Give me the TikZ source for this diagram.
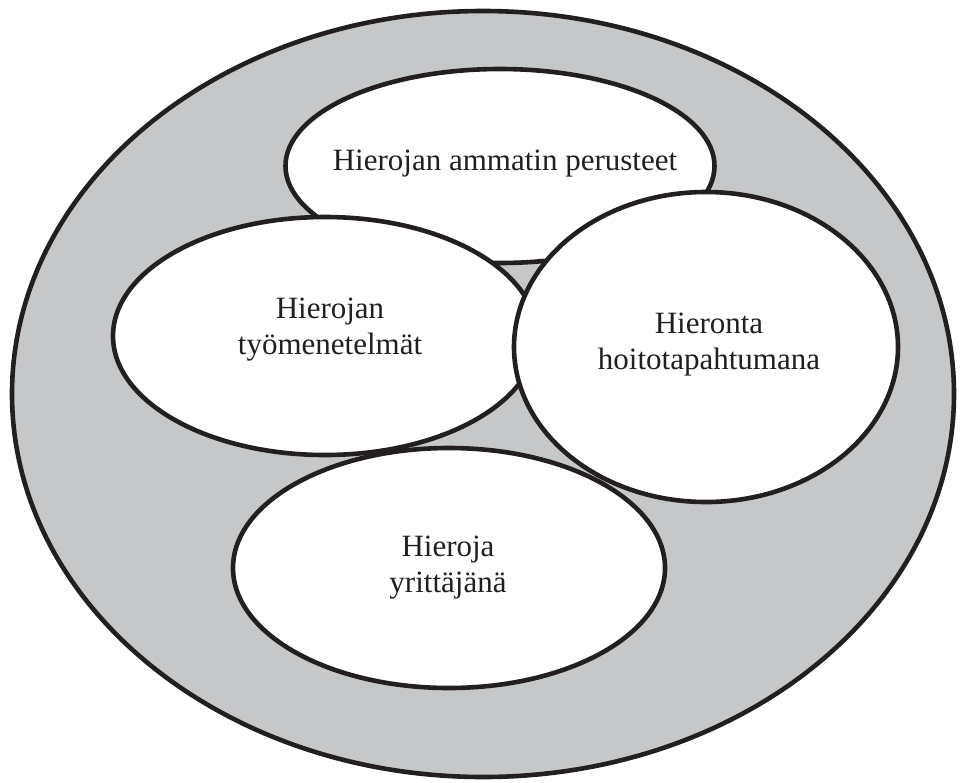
\documentclass[tikz,border=0pt]{standalone}
\usepackage{fontspec}
\setmainfont{Liberation Serif}
\usetikzlibrary{shapes.geometric}
\definecolor{ringgray}{HTML}{C6C7C9}
\definecolor{inkline}{HTML}{231F20}
\tikzset{
  bubble/.style={ellipse, draw=inkline, line width=4.6pt, fill=white, inner sep=0pt, outer sep=0pt},
  outerring/.style={ellipse, draw=inkline, line width=4.6pt, fill=ringgray, inner sep=0pt, outer sep=0pt},
  label/.style={text=inkline, align=center, inner sep=0pt, font=\fontsize{31}{36}\selectfont}
}
\begin{document}
\begin{tikzpicture}[x=1pt,y=-1pt]
\useasboundingbox (0,0) rectangle (961,782);
\node[outerring, minimum width=942pt, minimum height=766pt] (outer) at (483,394) {};
\node[bubble, minimum width=429pt, minimum height=194pt] (e1) at (500,166) {};
\node[bubble, minimum width=424pt, minimum height=238pt] (e2) at (325,336) {};
\node[bubble, minimum width=384pt, minimum height=310pt] (e3) at (706,347) {};
\node[bubble, minimum width=432pt, minimum height=240pt] (e4) at (449,568) {};
\node[label] (t1) at (505,163.8) {Hierojan ammatin perusteet};
\node[label] (t2) at (330,329.3) {Hierojan\\työmenetelmät};
\node[label] (t3) at (709,344.3) {Hieronta\\hoitotapahtumana};
\node[label] (t4) at (448,567.3) {Hieroja\\yrittäjänä};
\end{tikzpicture}
\end{document}
